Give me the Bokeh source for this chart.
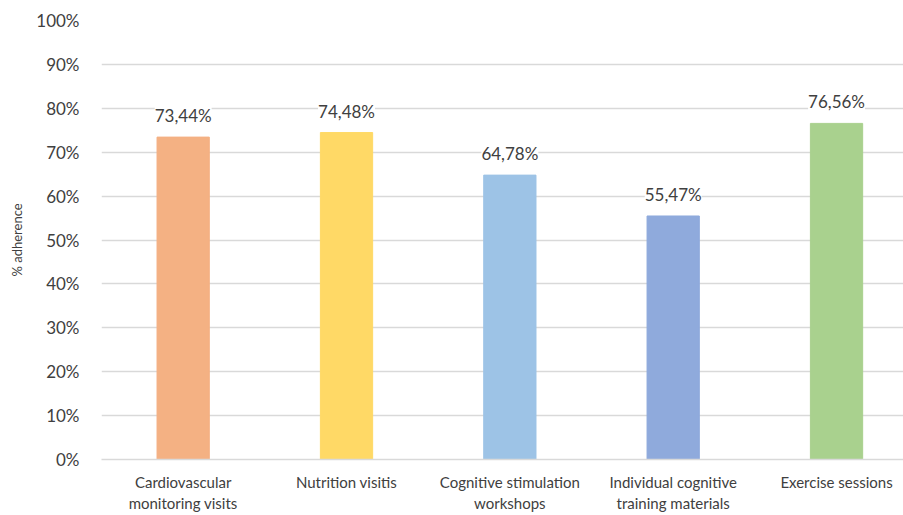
from bokeh.plotting import figure
from bokeh.models import Range1d, ColumnDataSource, LabelSet, FixedTicker
from bokeh.core.properties import value
from bokeh.embed import file_html
from bokeh.resources import INLINE

categories = ["Cardiovascular\nmonitoring visits", "Nutrition visitis", "Cognitive stimulation\nworkshops",
              "Individual cognitive\ntraining materials", "Exercise sessions"]
values = [73.44, 74.48, 64.78, 55.47, 76.56]
colors = ["#F4B183", "#FFD966", "#9DC3E6", "#8FAADC", "#A9D18E"]
value_labels = ["73,44%", "74,48%", "64,78%", "55,47%", "76,56%"]
y_ticks = [0, 10, 20, 30, 40, 50, 60, 70, 80, 90, 100]

FONT = "Lato"
TXT = "#404040"

xs = list(range(len(categories)))
src = ColumnDataSource(dict(x=xs, top=values, color=colors, lab=value_labels))

p = figure(width=903, height=515, output_backend="svg", toolbar_location=None,
           x_range=Range1d(-0.5, 4.41), y_range=Range1d(0, 100),
           min_border_left=101, min_border_right=0, min_border_top=20, min_border_bottom=55)
p.outline_line_color = None
p.background_fill_color = "white"

p.vbar(x="x", top="top", width=0.32, color="color", source=src)

labels = LabelSet(x="x", y="top", text="lab", source=src, y_offset=11, text_align="center",
                  text_baseline="bottom", text_font=value(FONT), text_font_size=value("17px"),
                  text_color=value(TXT), background_fill_color=value("white"))
p.add_layout(labels)

p.xaxis.ticker = FixedTicker(ticks=xs)
p.xaxis.major_label_overrides = {i: c for i, c in enumerate(categories)}
p.xaxis.major_tick_line_color = None
p.xaxis.minor_tick_line_color = None
p.xaxis.axis_line_color = "#d9d9d9"
p.xaxis.axis_line_width = 1.5
p.xaxis.major_label_text_font = FONT
p.xaxis.major_label_text_font_size = "15px"
p.xaxis.major_label_text_color = TXT
p.xaxis.major_label_standoff = 7
p.xgrid.grid_line_color = None

p.yaxis.ticker = FixedTicker(ticks=y_ticks)
p.yaxis.major_label_overrides = {t: f"{t}%" for t in y_ticks}
p.yaxis.axis_line_color = None
p.yaxis.major_tick_line_color = None
p.yaxis.minor_tick_line_color = None
p.yaxis.major_label_text_font = FONT
p.yaxis.major_label_text_font_size = "17px"
p.yaxis.major_label_text_color = TXT
p.yaxis.major_label_standoff = 16
p.yaxis.axis_label = "% adherence"
p.yaxis.axis_label_text_font = FONT
p.yaxis.axis_label_text_font_size = "13px"
p.yaxis.axis_label_text_font_style = "normal"
p.yaxis.axis_label_text_color = TXT
p.yaxis.axis_label_standoff = 8
p.ygrid.grid_line_color = "#d9d9d9"
p.ygrid.grid_line_width = 1.5

open("out.html", "w").write(file_html(p, INLINE))
